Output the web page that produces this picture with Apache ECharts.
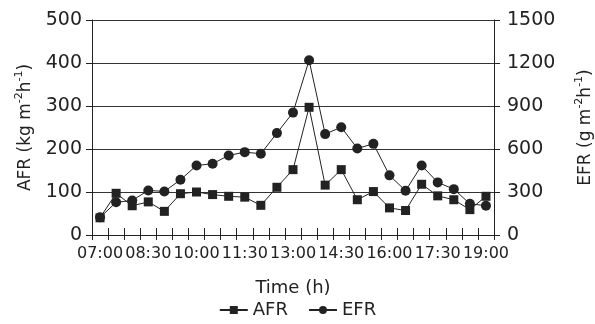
<!DOCTYPE html>
<html><head><meta charset="utf-8">
<script src="https://cdn.jsdelivr.net/npm/echarts@6/dist/echarts.min.js"></script>
<style>html,body{margin:0;padding:0;background:#fff}#c{width:595px;height:324px}</style>
</head><body><div id="c"></div>
<script>
var categories = ['07:00','07:30','08:00','08:30','09:00','09:30','10:00','10:30','11:00','11:30','12:00','12:30','13:00','13:30','14:00','14:30','15:00','15:30','16:00','16:30','17:00','17:30','18:00','18:30','19:00'];
var afr = [40,97,68,77,55,96,100,94,90,88,69,111,152,297,116,152,82,101,63,57,118,91,82,59,90];
var efr = [123,228,241,311,304,385,485,497,555,578,567,711,854,1219,704,752,604,636,416,309,485,367,320,218,204];
var leftTicks = [0,500,100];
var rightTicks = [0,1500,300];

var FONT = 'DejaVu Sans';
var C = '#222';
var chart = echarts.init(document.getElementById('c'));
var nameRich = {
  a: {fontFamily: FONT, fontSize: 17, color: C, lineHeight: 20, verticalAlign: 'bottom'},
  s: {fontFamily: FONT, fontSize: 11, color: C, lineHeight: 20, verticalAlign: 'top'}
};
chart.setOption({
  animation: false,
  textStyle: {fontFamily: FONT, color: C},
  grid: {left: 92, right: 101, top: 20, bottom: 89, containLabel: false, outerBoundsMode: 'none'},
  legend: {
    bottom: 0, left: 'center', itemWidth: 28, itemHeight: 10, itemGap: 20,
    textStyle: {fontFamily: FONT, fontSize: 18, color: C},
    data: ['AFR','EFR']
  },
  xAxis: [{
    type: 'category', data: categories, boundaryGap: true,
    name: 'Time (h)', nameLocation: 'middle', nameGap: 44,
    nameTextStyle: {fontFamily: FONT, fontSize: 18, color: C},
    axisLine: {lineStyle: {color: C, width: 1}},
    axisTick: {show: true, interval: 0, inside: false, length: 5, lineStyle: {color: C}},
    axisLabel: {interval: 2, fontFamily: FONT, fontSize: 16, color: C, margin: 11},
    splitLine: {show: false}
  },{
    type: 'category', data: categories, boundaryGap: true, position: 'bottom',
    axisLine: {show: false},
    axisTick: {show: true, interval: 0, inside: true, length: 7, lineStyle: {color: C}},
    axisLabel: {show: false}, splitLine: {show: false}
  }],
  yAxis: [{
    type: 'value', min: leftTicks[0], max: leftTicks[1], interval: leftTicks[2],
    name: '{a|AFR (kg m}{s|-2}{a|h}{s|-1}{a|)}', nameLocation: 'middle', nameGap: 58, nameRotate: 90,
    nameTextStyle: {rich: nameRich},
    axisLine: {show: true, lineStyle: {color: C, width: 1}},
    axisTick: {show: true, inside: false, length: 6, lineStyle: {color: C}},
    axisLabel: {fontFamily: FONT, fontSize: 19, color: C, margin: 10},
    splitLine: {show: true, lineStyle: {color: '#333', width: 1}}
  },{
    type: 'value', position: 'right', min: rightTicks[0], max: rightTicks[1], interval: rightTicks[2],
    name: '{a|EFR (g m}{s|-2}{a|h}{s|-1}{a|)}', nameLocation: 'middle', nameGap: 80, nameRotate: 90,
    nameTextStyle: {rich: nameRich},
    axisLine: {show: true, lineStyle: {color: C, width: 1}},
    axisTick: {show: true, inside: false, length: 6, lineStyle: {color: C}},
    axisLabel: {fontFamily: FONT, fontSize: 19, color: C, margin: 13, formatter: function (v) { return String(v); }},
    splitLine: {show: false}
  }],
  series: [{
    name: 'AFR', type: 'line', data: afr, yAxisIndex: 0,
    symbol: 'rect', symbolSize: 9,
    lineStyle: {color: C, width: 1}, itemStyle: {color: C}
  },{
    name: 'EFR', type: 'line', data: efr, yAxisIndex: 1,
    symbol: 'circle', symbolSize: 10,
    lineStyle: {color: C, width: 1}, itemStyle: {color: C}
  }]
});
</script></body></html>
